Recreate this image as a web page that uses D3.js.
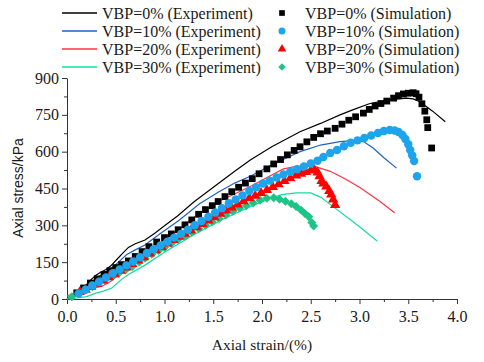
<!DOCTYPE html>
<html><head><meta charset="utf-8">
<script src="https://cdn.jsdelivr.net/npm/d3@7"></script>
<style>body{margin:0;background:#fff}svg{display:block}</style>
</head><body><svg id="c" width="484" height="362"></svg>
<script>
const seriesNames = ["VBP=0%", "VBP=10%", "VBP=20%", "VBP=30%"];
const xTicks = [0.0, 0.5, 1.0, 1.5, 2.0, 2.5, 3.0, 3.5, 4.0];
const yTicks = [0, 150, 300, 450, 600, 750, 900];

// Experiment curves [strain %, stress kPa]
const exp0 = [[0,0],[0.05,10],[0.10,22],[0.15,40],[0.20,58],[0.25,80],[0.29,95],[0.34,108],[0.40,120],[0.45,135],[0.52,165],[0.58,190],[0.63,210],[0.70,225],[0.80,240],[0.90,268],[1.00,298],[1.14,340],[1.30,395],[1.45,440],[1.60,485],[1.72,520],[1.88,566],[2.10,620],[2.39,681],[2.60,715],[2.80,750],[2.93,770],[3.10,795],[3.28,810],[3.48,818],[3.55,815],[3.62,803],[3.75,765],[3.88,722]];
const exp10 = [[0,0],[0.05,8],[0.10,18],[0.15,33],[0.20,50],[0.27,75],[0.34,95],[0.40,110],[0.50,140],[0.61,180],[0.70,200],[0.80,220],[0.95,265],[1.14,318],[1.36,388],[1.55,435],[1.72,472],[1.88,500],[2.10,547],[2.39,600],[2.60,627],[2.80,641],[2.93,645],[3.04,641],[3.14,615],[3.25,575],[3.38,533]];
const exp20 = [[0,12],[0.02,16],[0.05,14],[0.08,20],[0.15,30],[0.25,42],[0.36,52],[0.45,72],[0.53,98],[0.67,138],[0.84,193],[1.00,240],[1.20,300],[1.36,350],[1.57,400],[1.88,458],[2.10,505],[2.22,530],[2.35,540],[2.53,541],[2.70,520],[2.85,490],[3.00,455],[3.20,400],[3.36,351]];
const exp30 = [[0,0],[0.10,4],[0.20,10],[0.29,23],[0.38,33],[0.46,45],[0.56,80],[0.63,100],[0.80,138],[1.00,190],[1.30,262],[1.60,325],[1.90,380],[2.10,412],[2.20,425],[2.35,432],[2.50,432],[2.60,415],[2.75,370],[2.90,325],[3.00,294],[3.18,236]];

// Simulation points
const sim0 = [[0.10,25],[0.17,45],[0.24,65],[0.31,82],[0.38,100],[0.44,115],[0.50,128],[0.56,140],[0.63,155],[0.70,173],[0.77,193],[0.84,213],[0.92,232],[1.00,250],[1.07,265],[1.14,282],[1.21,302],[1.28,322],[1.35,345],[1.42,364],[1.49,380],[1.55,397],[1.62,417],[1.69,437],[1.76,455],[1.83,472],[1.90,490],[1.97,510],[2.05,530],[2.12,550],[2.19,568],[2.26,587],[2.33,605],[2.39,620],[2.46,640],[2.53,658],[2.60,673],[2.67,684],[2.75,695],[2.82,712],[2.89,728],[2.96,742],[3.04,757],[3.10,772],[3.16,786],[3.22,796],[3.28,806],[3.35,818],[3.40,828],[3.45,835],[3.50,838],[3.55,840],[3.58,836],[3.61,822],[3.64,795],[3.67,765],[3.69,730],[3.70,698],[3.74,615]];
const sim10 = [[0.12,22],[0.19,38],[0.26,55],[0.33,70],[0.40,88],[0.47,105],[0.54,120],[0.61,137],[0.68,153],[0.75,170],[0.82,187],[0.89,203],[0.96,218],[1.03,233],[1.10,250],[1.17,265],[1.24,282],[1.31,300],[1.38,318],[1.45,335],[1.52,352],[1.59,370],[1.66,390],[1.73,405],[1.80,422],[1.87,440],[1.94,455],[2.01,470],[2.08,482],[2.15,495],[2.22,507],[2.29,518],[2.36,528],[2.43,540],[2.50,552],[2.57,563],[2.63,578],[2.70,595],[2.77,607],[2.84,622],[2.91,636],[2.98,646],[3.05,656],[3.12,666],[3.19,676],[3.25,684],[3.31,688],[3.36,686],[3.40,680],[3.44,668],[3.47,652],[3.50,630],[3.52,607],[3.54,585],[3.56,562],[3.59,500]];
const sim20 = [[0.13,28],[0.19,38],[0.25,50],[0.31,62],[0.37,75],[0.43,88],[0.49,101],[0.55,115],[0.61,128],[0.67,142],[0.73,157],[0.79,170],[0.85,185],[0.91,198],[0.97,212],[1.03,226],[1.09,240],[1.15,253],[1.21,266],[1.27,279],[1.33,292],[1.39,305],[1.45,320],[1.51,333],[1.57,347],[1.63,360],[1.69,373],[1.75,385],[1.81,398],[1.87,410],[1.93,420],[1.99,432],[2.05,444],[2.11,456],[2.17,467],[2.23,480],[2.29,492],[2.35,503],[2.40,510],[2.45,517],[2.50,523],[2.54,525],[2.57,515],[2.59,500],[2.61,480],[2.63,470],[2.66,458],[2.69,440],[2.71,425],[2.73,405],[2.75,383]];
const sim30 = [[0.05,9],[0.12,23],[0.19,37],[0.26,50],[0.32,64],[0.39,77],[0.46,91],[0.53,105],[0.60,118],[0.67,132],[0.74,150],[0.80,166],[0.87,182],[0.94,197],[1.00,210],[1.07,226],[1.14,242],[1.21,256],[1.28,272],[1.35,286],[1.42,300],[1.49,314],[1.56,328],[1.63,342],[1.70,357],[1.77,370],[1.84,380],[1.91,391],[1.98,402],[2.05,410],[2.12,412],[2.18,406],[2.24,398],[2.30,388],[2.35,377],[2.40,362],[2.44,348],[2.48,335],[2.51,312],[2.53,297]];

const lineColors = ["#000000", "#1f62c4", "#ff3344", "#14dca0"];
const markColors = ["#000000", "#1ea4ec", "#ff0000", "#1ec486"];
const markShapes = [d3.symbolSquare, d3.symbolCircle, d3.symbolTriangle, d3.symbolSquare];
const markSizes = [46, 56, 46, 40];
const markRot = [0, 0, 0, 45];

const svg = d3.select("#c");
const x = d3.scaleLinear().domain([0, 4]).range([67, 457]);
const y = d3.scaleLinear().domain([0, 900]).range([299, 78]);

const serif = "'Liberation Serif','Times New Roman',serif";

// axes
const xAxis = svg.append("g").attr("transform", "translate(0,299)")
  .call(d3.axisBottom(x).tickValues(xTicks).tickFormat(d3.format(".1f")).tickSize(5).tickSizeOuter(0));
svg.append("g").attr("transform", "translate(0,299)")
  .call(d3.axisBottom(x).tickValues(d3.range(0.25, 4, 0.5)).tickFormat("").tickSize(3).tickSizeOuter(0))
  .select(".domain").remove();
const yAxis = svg.append("g").attr("transform", "translate(67,0)")
  .call(d3.axisLeft(y).tickValues(yTicks).tickSize(5).tickSizeOuter(0));
svg.append("g").attr("transform", "translate(67,0)")
  .call(d3.axisLeft(y).tickValues(d3.range(75, 900, 150)).tickFormat("").tickSize(3).tickSizeOuter(0))
  .select(".domain").remove();
svg.selectAll(".domain, .tick line").attr("stroke", "#333").attr("stroke-width", 1);
xAxis.selectAll("text").attr("font-family", serif).attr("font-size", 16).attr("fill", "#1a1a1a").attr("dy", "0.95em");
yAxis.selectAll("text").attr("font-family", serif).attr("font-size", 16).attr("fill", "#1a1a1a").attr("x", -8);

svg.append("text").attr("x", 262).attr("y", 350).attr("text-anchor", "middle")
  .attr("font-family", serif).attr("font-size", 15.5).attr("fill", "#1a1a1a").text("Axial strain/(%)");
svg.append("text").attr("transform", "translate(23,188) rotate(-90)").attr("text-anchor", "middle")
  .attr("font-family", "'Liberation Sans',Arial,sans-serif").attr("font-size", 14).attr("fill", "#1a1a1a").text("Axial stress/kPa");

// lines
const line = d3.line().x(d => x(d[0])).y(d => y(d[1]));
const exps = [exp0, exp10, exp20, exp30];
const sims = [sim0, sim10, sim20, sim30];

exps.forEach((e, i) => {
  svg.append("path").datum(e).attr("d", line).attr("fill", "none")
    .attr("stroke", lineColors[i]).attr("stroke-width", 1.2);
});
const order = [0, 3, 2, 1];
order.forEach(i => {
  svg.append("g").selectAll("path").data(sims[i]).join("path")
    .attr("transform", d => `translate(${x(d[0])},${y(d[1])}) rotate(${markRot[i]})`)
    .attr("d", d3.symbol().type(markShapes[i]).size(markSizes[i]))
    .attr("fill", markColors[i]);
});

// legend
const legY = [13, 31, 49, 67];
seriesNames.forEach((n, i) => {
  svg.append("line").attr("x1", 62).attr("x2", 97).attr("y1", legY[i]).attr("y2", legY[i])
    .attr("stroke", lineColors[i]).attr("stroke-width", 1.5);
  svg.append("text").attr("x", 102).attr("y", legY[i]).attr("dy", "0.35em")
    .attr("font-family", serif).attr("font-size", 16).attr("fill", "#1a1a1a").text(n + " (Experiment)");
  svg.append("path").attr("transform", `translate(282,${legY[i]}) rotate(${markRot[i]})`)
    .attr("d", d3.symbol().type(markShapes[i]).size(markSizes[i] * 0.7)).attr("fill", markColors[i]);
  svg.append("text").attr("x", 305).attr("y", legY[i]).attr("dy", "0.35em")
    .attr("font-family", serif).attr("font-size", 16).attr("fill", "#1a1a1a").text(n + " (Simulation)");
});
</script></body></html>
